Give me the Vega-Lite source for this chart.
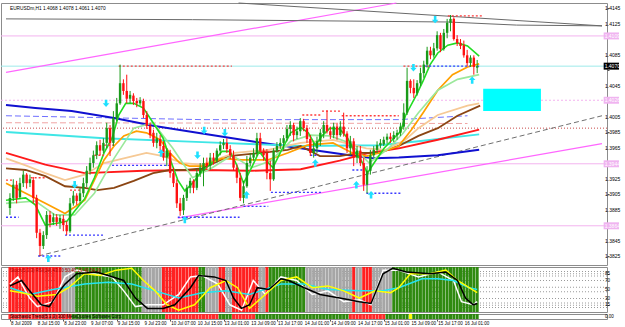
{
"$schema": "https://vega.github.io/schema/vega-lite/v6.json",
"padding": 0,
"background": "white",
"spacing": 2,
"bounds": "flush",
"resolve": {"scale": {"color": "independent", "shape": "independent", "strokeWidth": "independent"}},
"config": {"view": {"stroke": "#8c8c8c", "strokeWidth": 1}, "axis": {"labelFont": "Liberation Sans", "labelFontSize": 5, "labelColor": "#000000", "tickColor": "#555555", "grid": false, "labelOverlap": false, "labelBound": false}, "text": {"font": "Liberation Sans"}},
"datasets": {
"bars": [
{"i":0,"o":1.3887,"h":1.3906,"l":1.3878,"c":1.3900,"a":"r","b":"r"},
{"i":1,"o":1.3900,"h":1.3924,"l":1.3896,"c":1.3917,"a":"r","b":"r"},
{"i":2,"o":1.3917,"h":1.3922,"l":1.3893,"c":1.3900,"a":"r","b":"r"},
{"i":3,"o":1.3901,"h":1.3926,"l":1.3899,"c":1.3919,"a":"r","b":"r"},
{"i":4,"o":1.3919,"h":1.3935,"l":1.3914,"c":1.3930,"a":"r","b":"r"},
{"i":5,"o":1.3930,"h":1.3932,"l":1.3912,"c":1.3919,"a":"r","b":"r"},
{"i":6,"o":1.3919,"h":1.3930,"l":1.3914,"c":1.3924,"a":"r","b":"r"},
{"i":7,"o":1.3923,"h":1.3927,"l":1.3893,"c":1.3900,"a":"r","b":"r"},
{"i":8,"o":1.3900,"h":1.3904,"l":1.3848,"c":1.3855,"a":"r","b":"r"},
{"i":9,"o":1.3855,"h":1.3860,"l":1.3825,"c":1.3838,"a":"r","b":"r"},
{"i":10,"o":1.3838,"h":1.3857,"l":1.3834,"c":1.3852,"a":"r","b":"r"},
{"i":11,"o":1.3852,"h":1.3883,"l":1.3847,"c":1.3878,"a":"r","b":"r"},
{"i":12,"o":1.3878,"h":1.3883,"l":1.3862,"c":1.3868,"a":"r","b":"r"},
{"i":13,"o":1.3869,"h":1.3880,"l":1.3865,"c":1.3875,"a":"r","b":"r"},
{"i":14,"o":1.3875,"h":1.3879,"l":1.3864,"c":1.3869,"a":"r","b":"r"},
{"i":15,"o":1.3869,"h":1.3878,"l":1.3860,"c":1.3874,"a":"r","b":"r"},
{"i":16,"o":1.3873,"h":1.3878,"l":1.3857,"c":1.3865,"a":"a","b":"r"},
{"i":17,"o":1.3865,"h":1.3870,"l":1.3852,"c":1.3857,"a":"a","b":"r"},
{"i":18,"o":1.3857,"h":1.3900,"l":1.3855,"c":1.3893,"a":"a","b":"r"},
{"i":19,"o":1.3893,"h":1.3909,"l":1.3890,"c":1.3903,"a":"a","b":"g"},
{"i":20,"o":1.3903,"h":1.3906,"l":1.3891,"c":1.3896,"a":"g","b":"g"},
{"i":21,"o":1.3896,"h":1.3913,"l":1.3893,"c":1.3906,"a":"g","b":"g"},
{"i":22,"o":1.3906,"h":1.3926,"l":1.3901,"c":1.3919,"a":"g","b":"g"},
{"i":23,"o":1.3919,"h":1.3941,"l":1.3914,"c":1.3935,"a":"g","b":"g"},
{"i":24,"o":1.3935,"h":1.3952,"l":1.3930,"c":1.3945,"a":"g","b":"g"},
{"i":25,"o":1.3945,"h":1.3961,"l":1.3939,"c":1.3955,"a":"g","b":"g"},
{"i":26,"o":1.3955,"h":1.3973,"l":1.3950,"c":1.3968,"a":"g","b":"g"},
{"i":27,"o":1.3968,"h":1.3975,"l":1.3955,"c":1.3961,"a":"g","b":"g"},
{"i":28,"o":1.3961,"h":1.3977,"l":1.3958,"c":1.3971,"a":"g","b":"g"},
{"i":29,"o":1.3971,"h":1.3997,"l":1.3964,"c":1.3990,"a":"g","b":"g"},
{"i":30,"o":1.3990,"h":1.3994,"l":1.3954,"c":1.3971,"a":"g","b":"g"},
{"i":31,"o":1.3971,"h":1.4012,"l":1.3967,"c":1.4003,"a":"g","b":"g"},
{"i":32,"o":1.4003,"h":1.4029,"l":1.3999,"c":1.4022,"a":"g","b":"g"},
{"i":33,"o":1.4022,"h":1.4072,"l":1.4020,"c":1.4048,"a":"g","b":"g"},
{"i":34,"o":1.4048,"h":1.4053,"l":1.4033,"c":1.4038,"a":"g","b":"g"},
{"i":35,"o":1.4038,"h":1.4059,"l":1.4022,"c":1.4028,"a":"g","b":"g"},
{"i":36,"o":1.4028,"h":1.4038,"l":1.4022,"c":1.4033,"a":"g","b":"g"},
{"i":37,"o":1.4032,"h":1.4035,"l":1.4020,"c":1.4025,"a":"g","b":"g"},
{"i":38,"o":1.4025,"h":1.4029,"l":1.4017,"c":1.4022,"a":"g","b":"g"},
{"i":39,"o":1.4022,"h":1.4030,"l":1.4019,"c":1.4026,"a":"g","b":"g"},
{"i":40,"o":1.4025,"h":1.4028,"l":1.4003,"c":1.4007,"a":"a","b":"g"},
{"i":41,"o":1.4007,"h":1.4012,"l":1.3989,"c":1.3993,"a":"a","b":"g"},
{"i":42,"o":1.3993,"h":1.3997,"l":1.3977,"c":1.3981,"a":"a","b":"g"},
{"i":43,"o":1.3984,"h":1.3988,"l":1.3966,"c":1.3971,"a":"a","b":"g"},
{"i":44,"o":1.3971,"h":1.3984,"l":1.3964,"c":1.3977,"a":"a","b":"g"},
{"i":45,"o":1.3976,"h":1.3981,"l":1.3961,"c":1.3967,"a":"a","b":"g"},
{"i":46,"o":1.3967,"h":1.3973,"l":1.3948,"c":1.3952,"a":"r","b":"g"},
{"i":47,"o":1.3952,"h":1.3964,"l":1.3941,"c":1.3961,"a":"r","b":"r"},
{"i":48,"o":1.3958,"h":1.3962,"l":1.3926,"c":1.3932,"a":"r","b":"r"},
{"i":49,"o":1.3932,"h":1.3939,"l":1.3914,"c":1.3919,"a":"r","b":"r"},
{"i":50,"o":1.3919,"h":1.3924,"l":1.3887,"c":1.3893,"a":"r","b":"r"},
{"i":51,"o":1.3893,"h":1.3900,"l":1.3877,"c":1.3883,"a":"r","b":"r"},
{"i":52,"o":1.3884,"h":1.3904,"l":1.3878,"c":1.3900,"a":"r","b":"r"},
{"i":53,"o":1.3900,"h":1.3917,"l":1.3896,"c":1.3913,"a":"r","b":"r"},
{"i":54,"o":1.3913,"h":1.3926,"l":1.3906,"c":1.3922,"a":"r","b":"r"},
{"i":55,"o":1.3922,"h":1.3924,"l":1.3906,"c":1.3913,"a":"r","b":"r"},
{"i":56,"o":1.3913,"h":1.3937,"l":1.3910,"c":1.3932,"a":"r","b":"r"},
{"i":57,"o":1.3932,"h":1.3945,"l":1.3927,"c":1.3939,"a":"g","b":"r"},
{"i":58,"o":1.3935,"h":1.3952,"l":1.3915,"c":1.3945,"a":"g","b":"r"},
{"i":59,"o":1.3945,"h":1.3952,"l":1.3936,"c":1.3941,"a":"a","b":"r"},
{"i":60,"o":1.3941,"h":1.3958,"l":1.3936,"c":1.3952,"a":"a","b":"r"},
{"i":61,"o":1.3952,"h":1.3958,"l":1.3943,"c":1.3948,"a":"a","b":"r"},
{"i":62,"o":1.3948,"h":1.3964,"l":1.3945,"c":1.3961,"a":"a","b":"r"},
{"i":63,"o":1.3961,"h":1.3973,"l":1.3955,"c":1.3968,"a":"r","b":"g"},
{"i":64,"o":1.3968,"h":1.3976,"l":1.3963,"c":1.3971,"a":"r","b":"g"},
{"i":65,"o":1.3971,"h":1.3977,"l":1.3958,"c":1.3963,"a":"a","b":"g"},
{"i":66,"o":1.3963,"h":1.3968,"l":1.3950,"c":1.3955,"a":"a","b":"g"},
{"i":67,"o":1.3955,"h":1.3961,"l":1.3935,"c":1.3939,"a":"r","b":"r"},
{"i":68,"o":1.3939,"h":1.3943,"l":1.3919,"c":1.3926,"a":"r","b":"r"},
{"i":69,"o":1.3926,"h":1.3932,"l":1.3896,"c":1.3900,"a":"r","b":"r"},
{"i":70,"o":1.3900,"h":1.3922,"l":1.3893,"c":1.3915,"a":"r","b":"r"},
{"i":71,"o":1.3915,"h":1.3954,"l":1.3913,"c":1.3945,"a":"r","b":"r"},
{"i":72,"o":1.3945,"h":1.3958,"l":1.3941,"c":1.3952,"a":"r","b":"r"},
{"i":73,"o":1.3952,"h":1.3964,"l":1.3948,"c":1.3958,"a":"r","b":"r"},
{"i":74,"o":1.3958,"h":1.3984,"l":1.3954,"c":1.3977,"a":"r","b":"g"},
{"i":75,"o":1.3977,"h":1.3984,"l":1.3958,"c":1.3961,"a":"a","b":"g"},
{"i":76,"o":1.3961,"h":1.3964,"l":1.3948,"c":1.3955,"a":"a","b":"g"},
{"i":77,"o":1.3958,"h":1.3963,"l":1.3924,"c":1.3932,"a":"r","b":"g"},
{"i":78,"o":1.3932,"h":1.3948,"l":1.3909,"c":1.3924,"a":"g","b":"g"},
{"i":79,"o":1.3924,"h":1.3964,"l":1.3922,"c":1.3961,"a":"g","b":"g"},
{"i":80,"o":1.3961,"h":1.3972,"l":1.3958,"c":1.3967,"a":"g","b":"g"},
{"i":81,"o":1.3967,"h":1.3977,"l":1.3963,"c":1.3971,"a":"g","b":"g"},
{"i":82,"o":1.3971,"h":1.3981,"l":1.3962,"c":1.3977,"a":"g","b":"g"},
{"i":83,"o":1.3977,"h":1.3994,"l":1.3973,"c":1.3989,"a":"g","b":"g"},
{"i":84,"o":1.3989,"h":1.3999,"l":1.3980,"c":1.3994,"a":"g","b":"g"},
{"i":85,"o":1.3994,"h":1.3997,"l":1.3973,"c":1.3981,"a":"g","b":"g"},
{"i":86,"o":1.3981,"h":1.3992,"l":1.3976,"c":1.3986,"a":"g","b":"g"},
{"i":87,"o":1.3986,"h":1.4003,"l":1.3980,"c":1.3999,"a":"g","b":"g"},
{"i":88,"o":1.3999,"h":1.4002,"l":1.3986,"c":1.3990,"a":"g","b":"g"},
{"i":89,"o":1.3990,"h":1.3994,"l":1.3971,"c":1.3976,"a":"a","b":"g"},
{"i":90,"o":1.3976,"h":1.3981,"l":1.3954,"c":1.3958,"a":"a","b":"g"},
{"i":91,"o":1.3958,"h":1.3971,"l":1.3952,"c":1.3964,"a":"a","b":"g"},
{"i":92,"o":1.3964,"h":1.3979,"l":1.3958,"c":1.3973,"a":"a","b":"g"},
{"i":93,"o":1.3973,"h":1.3989,"l":1.3967,"c":1.3984,"a":"a","b":"g"},
{"i":94,"o":1.3984,"h":1.3999,"l":1.3977,"c":1.3994,"a":"a","b":"g"},
{"i":95,"o":1.3994,"h":1.4013,"l":1.3983,"c":1.3986,"a":"a","b":"g"},
{"i":96,"o":1.3986,"h":1.3992,"l":1.3976,"c":1.3981,"a":"a","b":"g"},
{"i":97,"o":1.3981,"h":1.3997,"l":1.3977,"c":1.3992,"a":"a","b":"g"},
{"i":98,"o":1.3992,"h":1.3997,"l":1.3975,"c":1.3981,"a":"a","b":"g"},
{"i":99,"o":1.3981,"h":1.3999,"l":1.3979,"c":1.3992,"a":"a","b":"g"},
{"i":100,"o":1.3992,"h":1.4010,"l":1.3979,"c":1.3983,"a":"a","b":"g"},
{"i":101,"o":1.3983,"h":1.3986,"l":1.3958,"c":1.3964,"a":"a","b":"g"},
{"i":102,"o":1.3964,"h":1.3980,"l":1.3955,"c":1.3973,"a":"a","b":"r"},
{"i":103,"o":1.3973,"h":1.3977,"l":1.3941,"c":1.3952,"a":"r","b":"r"},
{"i":104,"o":1.3952,"h":1.3967,"l":1.3945,"c":1.3961,"a":"a","b":"r"},
{"i":105,"o":1.3961,"h":1.3967,"l":1.3941,"c":1.3945,"a":"a","b":"r"},
{"i":106,"o":1.3945,"h":1.3952,"l":1.3909,"c":1.3917,"a":"r","b":"r"},
{"i":107,"o":1.3917,"h":1.3941,"l":1.3906,"c":1.3935,"a":"r","b":"r"},
{"i":108,"o":1.3935,"h":1.3962,"l":1.3930,"c":1.3955,"a":"r","b":"r"},
{"i":109,"o":1.3955,"h":1.3967,"l":1.3952,"c":1.3962,"a":"a","b":"r"},
{"i":110,"o":1.3962,"h":1.3973,"l":1.3958,"c":1.3968,"a":"a","b":"r"},
{"i":111,"o":1.3968,"h":1.3976,"l":1.3964,"c":1.3971,"a":"a","b":"r"},
{"i":112,"o":1.3969,"h":1.3979,"l":1.3967,"c":1.3975,"a":"a","b":"r"},
{"i":113,"o":1.3975,"h":1.3983,"l":1.3970,"c":1.3979,"a":"a","b":"g"},
{"i":114,"o":1.3979,"h":1.3984,"l":1.3971,"c":1.3976,"a":"a","b":"g"},
{"i":115,"o":1.3976,"h":1.3986,"l":1.3972,"c":1.3981,"a":"g","b":"g"},
{"i":116,"o":1.3981,"h":1.3988,"l":1.3975,"c":1.3984,"a":"g","b":"g"},
{"i":117,"o":1.3984,"h":1.3997,"l":1.3980,"c":1.3992,"a":"g","b":"g"},
{"i":118,"o":1.3992,"h":1.4022,"l":1.3988,"c":1.4010,"a":"g","b":"g"},
{"i":119,"o":1.4010,"h":1.4068,"l":1.4007,"c":1.4051,"a":"g","b":"g"},
{"i":120,"o":1.4051,"h":1.4053,"l":1.4035,"c":1.4042,"a":"g","b":"y"},
{"i":121,"o":1.4042,"h":1.4053,"l":1.4029,"c":1.4035,"a":"g","b":"g"},
{"i":122,"o":1.4035,"h":1.4052,"l":1.4032,"c":1.4048,"a":"g","b":"g"},
{"i":123,"o":1.4048,"h":1.4068,"l":1.4044,"c":1.4061,"a":"g","b":"g"},
{"i":124,"o":1.4061,"h":1.4077,"l":1.4055,"c":1.4072,"a":"g","b":"g"},
{"i":125,"o":1.4072,"h":1.4095,"l":1.4068,"c":1.4090,"a":"g","b":"g"},
{"i":126,"o":1.4090,"h":1.4095,"l":1.4079,"c":1.4084,"a":"g","b":"g"},
{"i":127,"o":1.4084,"h":1.4100,"l":1.4081,"c":1.4093,"a":"g","b":"g"},
{"i":128,"o":1.4093,"h":1.4115,"l":1.4090,"c":1.4110,"a":"g","b":"g"},
{"i":129,"o":1.4110,"h":1.4113,"l":1.4088,"c":1.4092,"a":"g","b":"g"},
{"i":130,"o":1.4092,"h":1.4118,"l":1.4090,"c":1.4113,"a":"g","b":"g"},
{"i":131,"o":1.4113,"h":1.4131,"l":1.4106,"c":1.4126,"a":"g","b":"g"},
{"i":132,"o":1.4126,"h":1.4136,"l":1.4115,"c":1.4131,"a":"g","b":"g"},
{"i":133,"o":1.4131,"h":1.4133,"l":1.4103,"c":1.4105,"a":"g","b":"g"},
{"i":134,"o":1.4105,"h":1.4110,"l":1.4096,"c":1.4100,"a":"g","b":"g"},
{"i":135,"o":1.4100,"h":1.4105,"l":1.4092,"c":1.4096,"a":"g","b":"g"},
{"i":136,"o":1.4097,"h":1.4103,"l":1.4081,"c":1.4084,"a":"g","b":"g"},
{"i":137,"o":1.4084,"h":1.4091,"l":1.4070,"c":1.4074,"a":"g","b":"g"},
{"i":138,"o":1.4074,"h":1.4084,"l":1.4069,"c":1.4081,"a":"g","b":"g"},
{"i":139,"o":1.4081,"h":1.4084,"l":1.4059,"c":1.4069,"a":"g","b":"g"},
{"i":140,"o":1.4068,"h":1.4078,"l":1.4061,"c":1.4070,"a":"g","b":"g"}
],
"ma": [
{"s":"bl","i":-1.18,"p":1.4020},{"s":"bl","i":7.6,"p":1.4016},{"s":"bl","i":18.5,"p":1.4012},{"s":"bl","i":31.2,"p":1.4003},{"s":"bl","i":42.9,"p":1.3993},{"s":"bl","i":57.6,"p":1.3983},{"s":"bl","i":72.4,"p":1.3973},{"s":"bl","i":87.1,"p":1.3964},{"s":"bl","i":101.8,"p":1.3955},{"s":"bl","i":109.1,"p":1.3951},{"s":"bl","i":116.5,"p":1.3952},{"s":"bl","i":128.2,"p":1.3955},{"s":"bl","i":140.6,"p":1.3962},
{"s":"cy","i":-1.18,"p":1.3985},{"s":"cy","i":28.2,"p":1.3977},{"s":"cy","i":57.6,"p":1.3972},{"s":"cy","i":87.1,"p":1.3967},{"s":"cy","i":110.6,"p":1.3968},{"s":"cy","i":122.4,"p":1.3973},{"s":"cy","i":140.6,"p":1.3982},
{"s":"rd","i":-1.18,"p":1.3958},{"s":"rd","i":10.6,"p":1.3943},{"s":"rd","i":22.4,"p":1.3932},{"s":"rd","i":40,"p":1.3935},{"s":"rd","i":57.6,"p":1.3936},{"s":"rd","i":72.4,"p":1.3935},{"s":"rd","i":87.1,"p":1.3937},{"s":"rd","i":98.8,"p":1.3948},{"s":"rd","i":107.6,"p":1.3958},{"s":"rd","i":116.5,"p":1.3964},{"s":"rd","i":128.2,"p":1.3975},{"s":"rd","i":140.6,"p":1.3988},
{"s":"br","i":-1.18,"p":1.3938},{"s":"br","i":4.7,"p":1.3936},{"s":"br","i":10.6,"p":1.3928},{"s":"br","i":16.5,"p":1.3915},{"s":"br","i":22.4,"p":1.3913},{"s":"br","i":26.2,"p":1.3910},{"s":"br","i":31.2,"p":1.3913},{"s":"br","i":37.1,"p":1.3922},{"s":"br","i":42.9,"p":1.3932},{"s":"br","i":47.9,"p":1.3936},{"s":"br","i":52.6,"p":1.3936},{"s":"br","i":57.6,"p":1.3938},{"s":"br","i":65.6,"p":1.3954},{"s":"br","i":75.3,"p":1.3958},{"s":"br","i":83.2,"p":1.3962},{"s":"br","i":87.1,"p":1.3967},{"s":"br","i":92.9,"p":1.3954},{"s":"br","i":98.8,"p":1.3954},{"s":"br","i":104.7,"p":1.3958},{"s":"br","i":110.6,"p":1.3958},{"s":"br","i":116.5,"p":1.3967},{"s":"br","i":122.4,"p":1.3980},{"s":"br","i":128.2,"p":1.3990},{"s":"br","i":134.1,"p":1.4006},{"s":"br","i":140.9,"p":1.4019},
{"s":"pe","i":-1.18,"p":1.3951},{"s":"pe","i":4.7,"p":1.3942},{"s":"pe","i":10.6,"p":1.3932},{"s":"pe","i":16.5,"p":1.3923},{"s":"pe","i":22.4,"p":1.3930},{"s":"pe","i":28.2,"p":1.3945},{"s":"pe","i":34.1,"p":1.3951},{"s":"pe","i":40.9,"p":1.3958},{"s":"pe","i":45.9,"p":1.3954},{"s":"pe","i":51.8,"p":1.3945},{"s":"pe","i":57.6,"p":1.3943},{"s":"pe","i":67.4,"p":1.3958},{"s":"pe","i":77.4,"p":1.3962},{"s":"pe","i":87.1,"p":1.3971},{"s":"pe","i":96.8,"p":1.3975},{"s":"pe","i":106.8,"p":1.3964},{"s":"pe","i":112.6,"p":1.3962},{"s":"pe","i":118.5,"p":1.3975},{"s":"pe","i":122.4,"p":1.3990},{"s":"pe","i":128.2,"p":1.4007},{"s":"pe","i":137.1,"p":1.4019},{"s":"pe","i":140.6,"p":1.4022},
{"s":"or","i":-1.18,"p":1.3919},{"s":"or","i":4.7,"p":1.3906},{"s":"or","i":10.6,"p":1.3893},{"s":"or","i":16.5,"p":1.3880},{"s":"or","i":22.4,"p":1.3897},{"s":"or","i":25.3,"p":1.3923},{"s":"or","i":28.2,"p":1.3949},{"s":"or","i":31.2,"p":1.3967},{"s":"or","i":34.1,"p":1.3980},{"s":"or","i":37.9,"p":1.3986},{"s":"or","i":40.9,"p":1.3984},{"s":"or","i":45,"p":1.3975},{"s":"or","i":47.9,"p":1.3958},{"s":"or","i":50.9,"p":1.3945},{"s":"or","i":53.8,"p":1.3941},{"s":"or","i":57.6,"p":1.3941},{"s":"or","i":63.5,"p":1.3951},{"s":"or","i":69.4,"p":1.3949},{"s":"or","i":77.4,"p":1.3949},{"s":"or","i":83.2,"p":1.3958},{"s":"or","i":89.1,"p":1.3968},{"s":"or","i":96.8,"p":1.3971},{"s":"or","i":102.6,"p":1.3958},{"s":"or","i":106.8,"p":1.3954},{"s":"or","i":110.6,"p":1.3958},{"s":"or","i":116.5,"p":1.3967},{"s":"or","i":120.3,"p":1.3988},{"s":"or","i":123.8,"p":1.4010},{"s":"or","i":128.2,"p":1.4039},{"s":"or","i":132.6,"p":1.4059},{"s":"or","i":137.1,"p":1.4069},{"s":"or","i":140.6,"p":1.4073},
{"s":"g2","i":-1.18,"p":1.3893},{"s":"g2","i":7.6,"p":1.3896},{"s":"g2","i":13.5,"p":1.3878},{"s":"g2","i":19.4,"p":1.3878},{"s":"g2","i":25.3,"p":1.3906},{"s":"g2","i":31.2,"p":1.3951},{"s":"g2","i":37.1,"p":1.3990},{"s":"g2","i":42.9,"p":1.3997},{"s":"g2","i":48.8,"p":1.3964},{"s":"g2","i":54.7,"p":1.3926},{"s":"g2","i":60.6,"p":1.3939},{"s":"g2","i":66.5,"p":1.3955},{"s":"g2","i":72.4,"p":1.3939},{"s":"g2","i":78.2,"p":1.3948},{"s":"g2","i":84.1,"p":1.3973},{"s":"g2","i":90,"p":1.3981},{"s":"g2","i":95.9,"p":1.3980},{"s":"g2","i":101.8,"p":1.3971},{"s":"g2","i":107.6,"p":1.3945},{"s":"g2","i":113.5,"p":1.3964},{"s":"g2","i":117.9,"p":1.3984},{"s":"g2","i":122.4,"p":1.4010},{"s":"g2","i":128.2,"p":1.4039},{"s":"g2","i":134.1,"p":1.4053},{"s":"g2","i":140.6,"p":1.4059},
{"s":"g1","i":-1.18,"p":1.3897},{"s":"g1","i":4.7,"p":1.3900},{"s":"g1","i":7.6,"p":1.3891},{"s":"g1","i":10.6,"p":1.3865},{"s":"g1","i":15,"p":1.3868},{"s":"g1","i":17.1,"p":1.3870},{"s":"g1","i":19.4,"p":1.3883},{"s":"g1","i":22.4,"p":1.3899},{"s":"g1","i":25.3,"p":1.3926},{"s":"g1","i":28.2,"p":1.3958},{"s":"g1","i":30.6,"p":1.3977},{"s":"g1","i":32.6,"p":1.4007},{"s":"g1","i":34.7,"p":1.4022},{"s":"g1","i":37.1,"p":1.4022},{"s":"g1","i":40,"p":1.4016},{"s":"g1","i":42.9,"p":1.3997},{"s":"g1","i":45.9,"p":1.3977},{"s":"g1","i":47.9,"p":1.3951},{"s":"g1","i":50.3,"p":1.3923},{"s":"g1","i":52.4,"p":1.3909},{"s":"g1","i":54.7,"p":1.3919},{"s":"g1","i":57.6,"p":1.3935},{"s":"g1","i":60.6,"p":1.3945},{"s":"g1","i":63.5,"p":1.3960},{"s":"g1","i":65.9,"p":1.3960},{"s":"g1","i":67.9,"p":1.3943},{"s":"g1","i":70,"p":1.3919},{"s":"g1","i":72.4,"p":1.3939},{"s":"g1","i":74.7,"p":1.3960},{"s":"g1","i":76.8,"p":1.3948},{"s":"g1","i":78.8,"p":1.3939},{"s":"g1","i":81.2,"p":1.3960},{"s":"g1","i":84.1,"p":1.3984},{"s":"g1","i":87.1,"p":1.3991},{"s":"g1","i":89.4,"p":1.3984},{"s":"g1","i":91.5,"p":1.3968},{"s":"g1","i":93.5,"p":1.3980},{"s":"g1","i":95.9,"p":1.3990},{"s":"g1","i":98.8,"p":1.3989},{"s":"g1","i":101.2,"p":1.3977},{"s":"g1","i":103.2,"p":1.3960},{"s":"g1","i":105.3,"p":1.3948},{"s":"g1","i":107.1,"p":1.3932},{"s":"g1","i":109.1,"p":1.3945},{"s":"g1","i":112.1,"p":1.3964},{"s":"g1","i":115,"p":1.3977},{"s":"g1","i":117.1,"p":1.3986},{"s":"g1","i":118.5,"p":1.4006},{"s":"g1","i":121.8,"p":1.4033},{"s":"g1","i":123.8,"p":1.4051},{"s":"g1","i":125.9,"p":1.4072},{"s":"g1","i":128.2,"p":1.4087},{"s":"g1","i":131.2,"p":1.4097},{"s":"g1","i":134.1,"p":1.4100},{"s":"g1","i":137.1,"p":1.4096},{"s":"g1","i":140.6,"p":1.4083}
],
"osc": [
{"s":"w","i":0,"v":62},{"s":"w","i":2.4,"v":78},{"s":"w","i":5.9,"v":31},{"s":"w","i":8.2,"v":12},{"s":"w","i":12.9,"v":23},{"s":"w","i":16.5,"v":78},{"s":"w","i":20,"v":93},{"s":"w","i":24.7,"v":85},{"s":"w","i":30.6,"v":78},{"s":"w","i":34.1,"v":47},{"s":"w","i":37.6,"v":12},{"s":"w","i":41.2,"v":16},{"s":"w","i":45.9,"v":16},{"s":"w","i":50.6,"v":39},{"s":"w","i":54.1,"v":78},{"s":"w","i":57.6,"v":81},{"s":"w","i":62.3,"v":62},{"s":"w","i":65.9,"v":16},{"s":"w","i":69.4,"v":4},{"s":"w","i":72.9,"v":70},{"s":"w","i":76.5,"v":39},{"s":"w","i":81.2,"v":78},{"s":"w","i":85.9,"v":70},{"s":"w","i":90.6,"v":39},{"s":"w","i":95.3,"v":47},{"s":"w","i":100,"v":23},{"s":"w","i":104.7,"v":27},{"s":"w","i":108.2,"v":16},{"s":"w","i":111.8,"v":93},{"s":"w","i":116.5,"v":93},{"s":"w","i":122.4,"v":78},{"s":"w","i":128.2,"v":89},{"s":"w","i":132.9,"v":70},{"s":"w","i":135.3,"v":23},{"s":"w","i":138.8,"v":16},{"s":"w","i":140,"v":23},
{"s":"c","i":0,"v":54},{"s":"c","i":5.9,"v":39},{"s":"c","i":12.9,"v":50},{"s":"c","i":22.4,"v":62},{"s":"c","i":29.4,"v":66},{"s":"c","i":36.5,"v":62},{"s":"c","i":43.5,"v":47},{"s":"c","i":50.6,"v":31},{"s":"c","i":57.6,"v":43},{"s":"c","i":64.7,"v":47},{"s":"c","i":71.8,"v":39},{"s":"c","i":81.2,"v":62},{"s":"c","i":88.2,"v":62},{"s":"c","i":95.3,"v":50},{"s":"c","i":104.7,"v":47},{"s":"c","i":111.8,"v":47},{"s":"c","i":116.5,"v":54},{"s":"c","i":123.5,"v":74},{"s":"c","i":128.2,"v":74},{"s":"c","i":132.9,"v":70},{"s":"c","i":137.6,"v":54},{"s":"c","i":140,"v":50},
{"s":"y","i":0,"v":47},{"s":"y","i":3.5,"v":43},{"s":"y","i":8.2,"v":35},{"s":"y","i":14.1,"v":39},{"s":"y","i":17.6,"v":54},{"s":"y","i":22.4,"v":85},{"s":"y","i":27,"v":81},{"s":"y","i":31.8,"v":93},{"s":"y","i":36.5,"v":97},{"s":"y","i":40,"v":70},{"s":"y","i":43.5,"v":47},{"s":"y","i":47.1,"v":16},{"s":"y","i":50.6,"v":4},{"s":"y","i":55.3,"v":16},{"s":"y","i":60,"v":54},{"s":"y","i":64.7,"v":70},{"s":"y","i":68.2,"v":54},{"s":"y","i":71.8,"v":8},{"s":"y","i":76.5,"v":39},{"s":"y","i":81.2,"v":70},{"s":"y","i":85.9,"v":78},{"s":"y","i":90.6,"v":54},{"s":"y","i":95.3,"v":58},{"s":"y","i":100,"v":47},{"s":"y","i":104.7,"v":31},{"s":"y","i":109.4,"v":47},{"s":"y","i":114.1,"v":43},{"s":"y","i":116.5,"v":54},{"s":"y","i":120,"v":85},{"s":"y","i":125.9,"v":85},{"s":"y","i":130.6,"v":93},{"s":"y","i":134.1,"v":70},{"s":"y","i":137.6,"v":54},{"s":"y","i":140,"v":43},
{"s":"k","i":0,"v":58},{"s":"k","i":3.5,"v":70},{"s":"k","i":5.9,"v":47},{"s":"k","i":9.4,"v":16},{"s":"k","i":11.8,"v":12},{"s":"k","i":14.1,"v":39},{"s":"k","i":16.5,"v":62},{"s":"k","i":20,"v":85},{"s":"k","i":25.9,"v":89},{"s":"k","i":29.4,"v":81},{"s":"k","i":34.1,"v":70},{"s":"k","i":37.6,"v":31},{"s":"k","i":41.2,"v":8},{"s":"k","i":45.9,"v":8},{"s":"k","i":49.4,"v":16},{"s":"k","i":54.1,"v":54},{"s":"k","i":56.5,"v":81},{"s":"k","i":61.2,"v":78},{"s":"k","i":64.7,"v":70},{"s":"k","i":67,"v":31},{"s":"k","i":69.4,"v":8},{"s":"k","i":71.8,"v":16},{"s":"k","i":74.1,"v":54},{"s":"k","i":77.6,"v":50},{"s":"k","i":81.2,"v":74},{"s":"k","i":83.5,"v":70},{"s":"k","i":88.2,"v":54},{"s":"k","i":92.9,"v":39},{"s":"k","i":98.8,"v":31},{"s":"k","i":104.7,"v":23},{"s":"k","i":108.2,"v":19},{"s":"k","i":111.8,"v":85},{"s":"k","i":114.7,"v":97},{"s":"k","i":118.8,"v":89},{"s":"k","i":125.9,"v":85},{"s":"k","i":130.6,"v":89},{"s":"k","i":134.1,"v":70},{"s":"k","i":136.5,"v":31},{"s":"k","i":138.8,"v":16},{"s":"k","i":140,"v":19}
]
},
"vconcat": [
{
"width": 606, "height": 262,
"resolve": {"scale": {"color": "independent", "shape": "independent", "strokeWidth": "independent"}},
"layer": [
{"data": {"values": [{"p":1.4109},{"p":1.3944},{"p":1.3864}]},
 "mark": {"type":"rule","color":"#f3b3ef","strokeWidth":1},
 "encoding": {"y": {"field":"p","type":"quantitative","scale":{"domain":[1.38134,1.41515],"nice":false,"zero":false},
   "axis":{"orient":"right","title":null,"values":[1.4145,1.4125,1.4105,1.4085,1.4065,1.4045,1.4025,1.4005,1.3985,1.3965,1.3945,1.3925,1.3905,1.3885,1.3865,1.3845,1.3825],"labels":false,"tickSize":2,"domain":false}}}},
{"data": {"values": [{"p":1.4026}]},
 "mark": {"type":"rule","color":"#f3b3ef","strokeWidth":1,"strokeDash":[2,2]},
 "encoding": {"y": {"field":"p","type":"quantitative","scale":{"domain":[1.38134,1.41515],"nice":false,"zero":false}}}},
{"data": {"values": [{"p":1.4070}]},
 "mark": {"type":"rule","color":"#9eeaea","strokeWidth":1},
 "encoding": {"y": {"field":"p","type":"quantitative","scale":{"domain":[1.38134,1.41515],"nice":false,"zero":false}}}},
{"data": {"values": [{"p":1.3990}]},
 "mark": {"type":"rule","color":"#c84848","strokeWidth":1,"strokeDash":[1,2]},
 "encoding": {"y": {"field":"p","type":"quantitative","scale":{"domain":[1.38134,1.41515],"nice":false,"zero":false}}}},
{"data": {"values": [{"n":"m1","i":-1.18,"p":1.4062},{"n":"m1","i":115.8,"p":1.41515},{"n":"m2","i":50.3,"p":1.3874},{"n":"m2","i":177.4,"p":1.3970}]},
 "mark": {"type":"line","color":"#ff66ff","strokeWidth":1.2},
 "encoding": {"x": {"field":"i","type":"quantitative","scale":{"domain":[-1.18,177.4],"nice":false,"zero":false},"axis":null},
   "y": {"field":"p","type":"quantitative","scale":{"domain":[1.38134,1.41515],"nice":false,"zero":false}},
   "detail": {"field":"n"}}},
{"data": {"values": [{"n":"gd","i":8.5,"p":1.3825},{"n":"gd","i":177.4,"p":1.4006}]},
 "mark": {"type":"line","color":"#707070","strokeWidth":1,"strokeDash":[5,3]},
 "encoding": {"x": {"field":"i","type":"quantitative","scale":{"domain":[-1.18,177.4],"nice":false,"zero":false},"axis":null},
   "y": {"field":"p","type":"quantitative","scale":{"domain":[1.38134,1.41515],"nice":false,"zero":false}},
   "detail": {"field":"n"}}},
{"data": {"values": [{"n":"d1","i":68.5,"p":1.41515},{"n":"d1","i":177.4,"p":1.4122},{"n":"d2","i":-1.18,"p":1.4131},{"n":"d2","i":54.7,"p":1.4130},{"n":"d2","i":131.2,"p":1.4127},{"n":"d2","i":151.8,"p":1.4123},{"n":"d2","i":177.4,"p":1.4122}]},
 "mark": {"type":"line","color":"#6a6a6a","strokeWidth":1},
 "encoding": {"x": {"field":"i","type":"quantitative","scale":{"domain":[-1.18,177.4],"nice":false,"zero":false},"axis":null},
   "y": {"field":"p","type":"quantitative","scale":{"domain":[1.38134,1.41515],"nice":false,"zero":false}},
   "detail": {"field":"n"}}},
{"data": {"values": [{"n":"bd","i":-1.18,"p":1.4006},{"n":"bd","i":57.6,"p":1.4001},{"n":"bd","i":116.5,"p":1.4001},{"n":"bd","i":137.1,"p":1.4006}]},
 "mark": {"type":"line","color":"#6f6fff","strokeWidth":1,"strokeDash":[6,3]},
 "encoding": {"x": {"field":"i","type":"quantitative","scale":{"domain":[-1.18,177.4],"nice":false,"zero":false},"axis":null},
   "y": {"field":"p","type":"quantitative","scale":{"domain":[1.38134,1.41515],"nice":false,"zero":false}},
   "detail": {"field":"n"}}},
{"data": {"values": [{"n":"sd","i":-1.18,"p":1.3997},{"n":"sd","i":137.1,"p":1.3996}]},
 "mark": {"type":"line","color":"#f0a4a4","strokeWidth":1,"strokeDash":[6,3]},
 "encoding": {"x": {"field":"i","type":"quantitative","scale":{"domain":[-1.18,177.4],"nice":false,"zero":false},"axis":null},
   "y": {"field":"p","type":"quantitative","scale":{"domain":[1.38134,1.41515],"nice":false,"zero":false}},
   "detail": {"field":"n"}}},
{"data": {"name":"ma"},
 "mark": {"type":"line"},
 "encoding": {"x": {"field":"i","type":"quantitative","scale":{"domain":[-1.18,177.4],"nice":false,"zero":false},"axis":null},
   "y": {"field":"p","type":"quantitative","scale":{"domain":[1.38134,1.41515],"nice":false,"zero":false}},
   "color": {"field":"s","type":"nominal","sort":null,"scale":{"domain":["bl","cy","rd","br","pe","or","g2","g1"],"range":["#1010d0","#3fe6e6","#ff1a1a","#8b4513","#f6c995","#ffa000","#9be89b","#22dd22"]},"legend":null},
   "strokeWidth": {"field":"s","type":"nominal","scale":{"domain":["bl","cy","rd","br","pe","or","g2","g1"],"range":[2,1.6,1.6,1.4,1.2,1.2,1,1.2]},"legend":null},
   "order": {"field":"i","type":"quantitative"}}},
{"data": {"values": [
 {"a":32.6,"b":66.5,"p":1.4070,"t":"r"},{"a":131.2,"b":141.5,"p":1.4135,"t":"r"},{"a":93.5,"b":99.4,"p":1.4012,"t":"r"},{"a":87.6,"b":93.5,"p":1.4007,"t":"r"},{"a":99.4,"b":116.5,"p":1.4006,"t":"r"},{"a":117.9,"b":126.2,"p":1.4070,"t":"r"},{"a":-1.18,"b":1.2,"p":1.3923,"t":"r"},{"a":6.2,"b":10.6,"p":1.3926,"t":"r"},{"a":18,"b":21,"p":1.3910,"t":"r"},{"a":25.3,"b":28.2,"p":1.3955,"t":"r"},{"a":28.2,"b":31.2,"p":1.3968,"t":"r"},{"a":73.8,"b":78.2,"p":1.3960,"t":"r"},
 {"a":8.5,"b":15.6,"p":1.3825,"t":"b"},{"a":16.5,"b":28.2,"p":1.3852,"t":"b"},{"a":-1.18,"b":2.6,"p":1.3875,"t":"b"},{"a":30.6,"b":47.9,"p":1.3942,"t":"b"},{"a":50.3,"b":68.8,"p":1.3875,"t":"b"},{"a":70,"b":77.4,"p":1.3889,"t":"b"},{"a":78.2,"b":93.5,"p":1.3907,"t":"b"},{"a":90,"b":92.4,"p":1.3955,"t":"b"},{"a":102.6,"b":105.6,"p":1.3936,"t":"b"},{"a":106.8,"b":117.4,"p":1.3906,"t":"b"},{"a":124.4,"b":140.9,"p":1.4070,"t":"b"}]},
 "mark": {"type":"rule","strokeWidth":1.3,"strokeDash":[2,2]},
 "encoding": {"x": {"field":"a","type":"quantitative","scale":{"domain":[-1.18,177.4],"nice":false,"zero":false},"axis":null},
   "x2": {"field":"b"},
   "y": {"field":"p","type":"quantitative","scale":{"domain":[1.38134,1.41515],"nice":false,"zero":false}},
   "color": {"condition":{"test":"datum.t === 'r'","value":"#ff3b3b"},"value":"#3a3aff"}}},
{"data": {"name":"bars"},
 "mark": {"type":"rule","strokeWidth":1},
 "encoding": {"x": {"field":"i","type":"quantitative","scale":{"domain":[-1.18,177.4],"nice":false,"zero":false},"axis":null},
   "y": {"field":"l","type":"quantitative","scale":{"domain":[1.38134,1.41515],"nice":false,"zero":false}},
   "y2": {"field":"h"},
   "color": {"condition":{"test":"datum.c >= datum.o","value":"#199a19"},"value":"#ff1010"}}},
{"data": {"name":"bars"},
 "mark": {"type":"bar","width":2.4},
 "encoding": {"x": {"field":"i","type":"quantitative","scale":{"domain":[-1.18,177.4],"nice":false,"zero":false},"axis":null},
   "y": {"field":"o","type":"quantitative","scale":{"domain":[1.38134,1.41515],"nice":false,"zero":false}},
   "y2": {"field":"c"},
   "color": {"condition":{"test":"datum.c >= datum.o","value":"#199a19"},"value":"#ff1010"}}},
{"data": {"values": [
 {"i":28.8,"p":1.4022,"d":"d"},{"i":19.4,"p":1.3917,"d":"d"},{"i":11.5,"p":1.3822,"d":"u"},{"i":45.3,"p":1.3958,"d":"u"},{"i":56.2,"p":1.3955,"d":"d"},{"i":52.4,"p":1.3872,"d":"u"},{"i":58.2,"p":1.3987,"d":"d"},{"i":64.4,"p":1.3984,"d":"d"},{"i":70.9,"p":1.3904,"d":"u"},{"i":91.5,"p":1.3945,"d":"u"},{"i":103.8,"p":1.3917,"d":"u"},{"i":108.2,"p":1.3904,"d":"u"},{"i":120.9,"p":1.4068,"d":"d"},{"i":127.4,"p":1.4130,"d":"d"},{"i":138.5,"p":1.4052,"d":"u"}]},
 "mark": {"type":"point","filled":true,"size":55,"color":"#1ee0ff","opacity":1},
 "encoding": {"x": {"field":"i","type":"quantitative","scale":{"domain":[-1.18,177.4],"nice":false,"zero":false},"axis":null},
   "y": {"field":"p","type":"quantitative","scale":{"domain":[1.38134,1.41515],"nice":false,"zero":false}},
   "shape": {"field":"d","type":"nominal","scale":{"domain":["u","d"],"range":["M0,-1L0.9,0L0.35,0L0.35,1L-0.35,1L-0.35,0L-0.9,0Z","M0,1L0.9,0L0.35,0L0.35,-1L-0.35,-1L-0.35,0L-0.9,0Z"]},"legend":null}}},
{"data": {"values": [{"a":141.8,"b":159.1,"p":1.4012,"q":1.4041}]},
 "mark": {"type":"rect","color":"#00ffff"},
 "encoding": {"x": {"field":"a","type":"quantitative","scale":{"domain":[-1.18,177.4],"nice":false,"zero":false},"axis":null},
   "x2": {"field":"b"},
   "y": {"field":"p","type":"quantitative","scale":{"domain":[1.38134,1.41515],"nice":false,"zero":false}},
   "y2": {"field":"q"}}},
{"data": {"values": [{"i":0,"p":1.4144,"t":"EURUSDm,H1  1.4068 1.4078 1.4061 1.4070"}]},
 "mark": {"type":"text","align":"left","baseline":"middle","fontSize":4.8,"color":"#000000"},
 "encoding": {"x": {"field":"i","type":"quantitative","scale":{"domain":[-1.18,177.4],"nice":false,"zero":false},"axis":null},
   "y": {"field":"p","type":"quantitative","scale":{"domain":[1.38134,1.41515],"nice":false,"zero":false}},
   "text": {"field":"t"}}},
{"data": {"values": [{"p":1.4145},{"p":1.4125},{"p":1.4085},{"p":1.4045},{"p":1.4005},{"p":1.3985},{"p":1.3965},{"p":1.3925},{"p":1.3905},{"p":1.3885},{"p":1.3845},{"p":1.3825}]},
 "mark": {"type":"text","align":"left","baseline":"middle","fontSize":5,"dx":3,"color":"#000000"},
 "encoding": {"x": {"datum":177.4,"type":"quantitative","scale":{"domain":[-1.18,177.4],"nice":false,"zero":false},"axis":null},
   "y": {"field":"p","type":"quantitative","scale":{"domain":[1.38134,1.41515],"nice":false,"zero":false}},
   "text": {"field":"p","type":"quantitative","format":".4f"}}},
{"data": {"values": [{"a":177.9,"b":182.5,"q":1.41045,"r":1.41135,"k":"p"},{"a":177.9,"b":182.5,"q":1.40215,"r":1.40305,"k":"p"},{"a":177.9,"b":182.5,"q":1.39395,"r":1.39485,"k":"p"},{"a":177.9,"b":182.5,"q":1.38595,"r":1.38685,"k":"p"},{"a":177.9,"b":182.5,"q":1.40655,"r":1.40745,"k":"k"}]},
 "mark": {"type":"rect"},
 "encoding": {"x": {"field":"a","type":"quantitative","scale":{"domain":[-1.18,177.4],"nice":false,"zero":false},"axis":null},
   "x2": {"field":"b"},
   "y": {"field":"q","type":"quantitative","scale":{"domain":[1.38134,1.41515],"nice":false,"zero":false}},
   "y2": {"field":"r"},
   "color": {"condition":{"test":"datum.k === 'k'","value":"#000000"},"value":"#f0b4f0"}}},
{"data": {"values": [{"a":177.9,"p":1.4109,"t":"1.4109"},{"a":177.9,"p":1.4026,"t":"1.4026"},{"a":177.9,"p":1.3944,"t":"1.3944"},{"a":177.9,"p":1.3864,"t":"1.3864"},{"a":177.9,"p":1.4070,"t":"1.4070"}]},
 "mark": {"type":"text","align":"left","baseline":"middle","fontSize":5,"dx":1,"color":"#ffffff"},
 "encoding": {"x": {"field":"a","type":"quantitative","scale":{"domain":[-1.18,177.4],"nice":false,"zero":false},"axis":null},
   "y": {"field":"p","type":"quantitative","scale":{"domain":[1.38134,1.41515],"nice":false,"zero":false}},
   "text": {"field":"t"}}}
]
},
{
"width": 606, "height": 45,
"layer": [
{"data": {"values": [{"v":90},{"v":85},{"v":80},{"v":70},{"v":55},{"v":45},{"v":30},{"v":20},{"v":15},{"v":10}]},
 "mark": {"type":"rule","color":"#9a9a9a","strokeDash":[1,2],"strokeWidth":1},
 "encoding": {"y": {"field":"v","type":"quantitative","scale":{"domain":[0,100],"nice":false,"zero":false},
   "axis":{"orient":"right","title":null,"values":[85,70,50,30,15],"labels":false,"tickSize":2,"domain":false}}}},
{"data": {"name":"bars"},
 "mark": {"type":"bar","width":3},
 "encoding": {"x": {"field":"i","type":"quantitative","scale":{"domain":[-1.18,177.4],"nice":false,"zero":false},"axis":null},
   "y": {"datum":0,"type":"quantitative","scale":{"domain":[0,100],"nice":false,"zero":false}},
   "y2": {"datum":100},
   "color": {"condition":[{"test":"datum.a === 'r'","value":"#ff2020"},{"test":"datum.a === 'g'","value":"#2f8a10"}],"value":"#a6a6a6"}}},
{"data": {"name":"osc"},
 "mark": {"type":"line","strokeWidth":1.5},
 "encoding": {"x": {"field":"i","type":"quantitative","scale":{"domain":[-1.18,177.4],"nice":false,"zero":false},"axis":null},
   "y": {"field":"v","type":"quantitative","scale":{"domain":[0,100],"nice":false,"zero":false}},
   "color": {"field":"s","type":"nominal","sort":null,"scale":{"domain":["w","c","y","k"],"range":["#ffffff","#22e5f0","#ffff00","#000000"]},"legend":null},
   "order": {"field":"i","type":"quantitative"}}},
{"data": {"values": [{"i":0,"v":92,"t":"Stoch(5,3,3) RSI(14) 43.00 50.40 19.40 54.30"}]},
 "mark": {"type":"text","align":"left","baseline":"middle","fontSize":4.5,"color":"#b00000"},
 "encoding": {"x": {"field":"i","type":"quantitative","scale":{"domain":[-1.18,177.4],"nice":false,"zero":false},"axis":null},
   "y": {"field":"v","type":"quantitative","scale":{"domain":[0,100],"nice":false,"zero":false}},
   "text": {"field":"t"}}},
{"data": {"values": [{"v":85},{"v":70},{"v":50},{"v":30},{"v":15}]},
 "mark": {"type":"text","align":"left","baseline":"middle","fontSize":4.5,"dx":3,"color":"#000000"},
 "encoding": {"x": {"datum":177.4,"type":"quantitative","scale":{"domain":[-1.18,177.4],"nice":false,"zero":false},"axis":null},
   "y": {"field":"v","type":"quantitative","scale":{"domain":[0,100],"nice":false,"zero":false}},
   "text": {"field":"v","type":"quantitative","format":"d"}}}
]
},
{
"width": 606, "height": 5,
"layer": [
{"data": {"name":"bars"},
 "mark": {"type":"bar","width":3},
 "encoding": {"x": {"field":"i","type":"quantitative","scale":{"domain":[-1.18,177.4],"nice":false,"zero":false},
   "axis":{"orient":"bottom","title":null,"values":[0,8,16,24,32,40,48,56,64,72,80,88,96,104,112,120,128,136],"labels":false,"tickSize":2,"domain":false}},
   "y": {"datum":0,"type":"quantitative","scale":{"domain":[0,1],"nice":false,"zero":false},"axis":null},
   "y2": {"datum":1},
   "color": {"condition":[{"test":"datum.b === 'r'","value":"#ff2a2a"},{"test":"datum.b === 'y'","value":"#ffff00"}],"value":"#2f8a10"}}},
{"data": {"values": [{"i":0,"v":0.5,"t":"Stochastic Trend(5,3,3) 300  MetaQuotes Software Corp."}]},
 "mark": {"type":"text","align":"left","baseline":"middle","fontSize":4.5,"color":"#000000"},
 "encoding": {"x": {"field":"i","type":"quantitative","scale":{"domain":[-1.18,177.4],"nice":false,"zero":false}},
   "y": {"field":"v","type":"quantitative","scale":{"domain":[0,1],"nice":false,"zero":false}},
   "text": {"field":"t"}}},
{"data": {"values": [{"i":0,"t":"8 Jul 2009"},{"i":8,"t":"8 Jul 15:00"},{"i":16,"t":"8 Jul 23:00"},{"i":24,"t":"9 Jul 07:00"},{"i":32,"t":"9 Jul 15:00"},{"i":40,"t":"9 Jul 23:00"},{"i":48,"t":"10 Jul 07:00"},{"i":56,"t":"10 Jul 15:00"},{"i":64,"t":"13 Jul 01:00"},{"i":72,"t":"13 Jul 09:00"},{"i":80,"t":"13 Jul 17:00"},{"i":88,"t":"14 Jul 01:00"},{"i":96,"t":"14 Jul 09:00"},{"i":104,"t":"14 Jul 17:00"},{"i":112,"t":"15 Jul 01:00"},{"i":120,"t":"15 Jul 09:00"},{"i":128,"t":"15 Jul 17:00"},{"i":136,"t":"16 Jul 01:00"}]},
 "mark": {"type":"text","align":"left","baseline":"top","fontSize":4.5,"dy":2,"dx":1,"color":"#000000"},
 "encoding": {"x": {"field":"i","type":"quantitative","scale":{"domain":[-1.18,177.4],"nice":false,"zero":false}},
   "y": {"datum":0,"type":"quantitative","scale":{"domain":[0,1],"nice":false,"zero":false}},
   "text": {"field":"t"}}},
{"data": {"values": [{"v":0.5,"t":"0.00"}]},
 "mark": {"type":"text","align":"left","baseline":"middle","fontSize":4.5,"dx":3,"color":"#000000"},
 "encoding": {"x": {"datum":177.4,"type":"quantitative","scale":{"domain":[-1.18,177.4],"nice":false,"zero":false}},
   "y": {"field":"v","type":"quantitative","scale":{"domain":[0,1],"nice":false,"zero":false}},
   "text": {"field":"t"}}}
]
}
]
}
